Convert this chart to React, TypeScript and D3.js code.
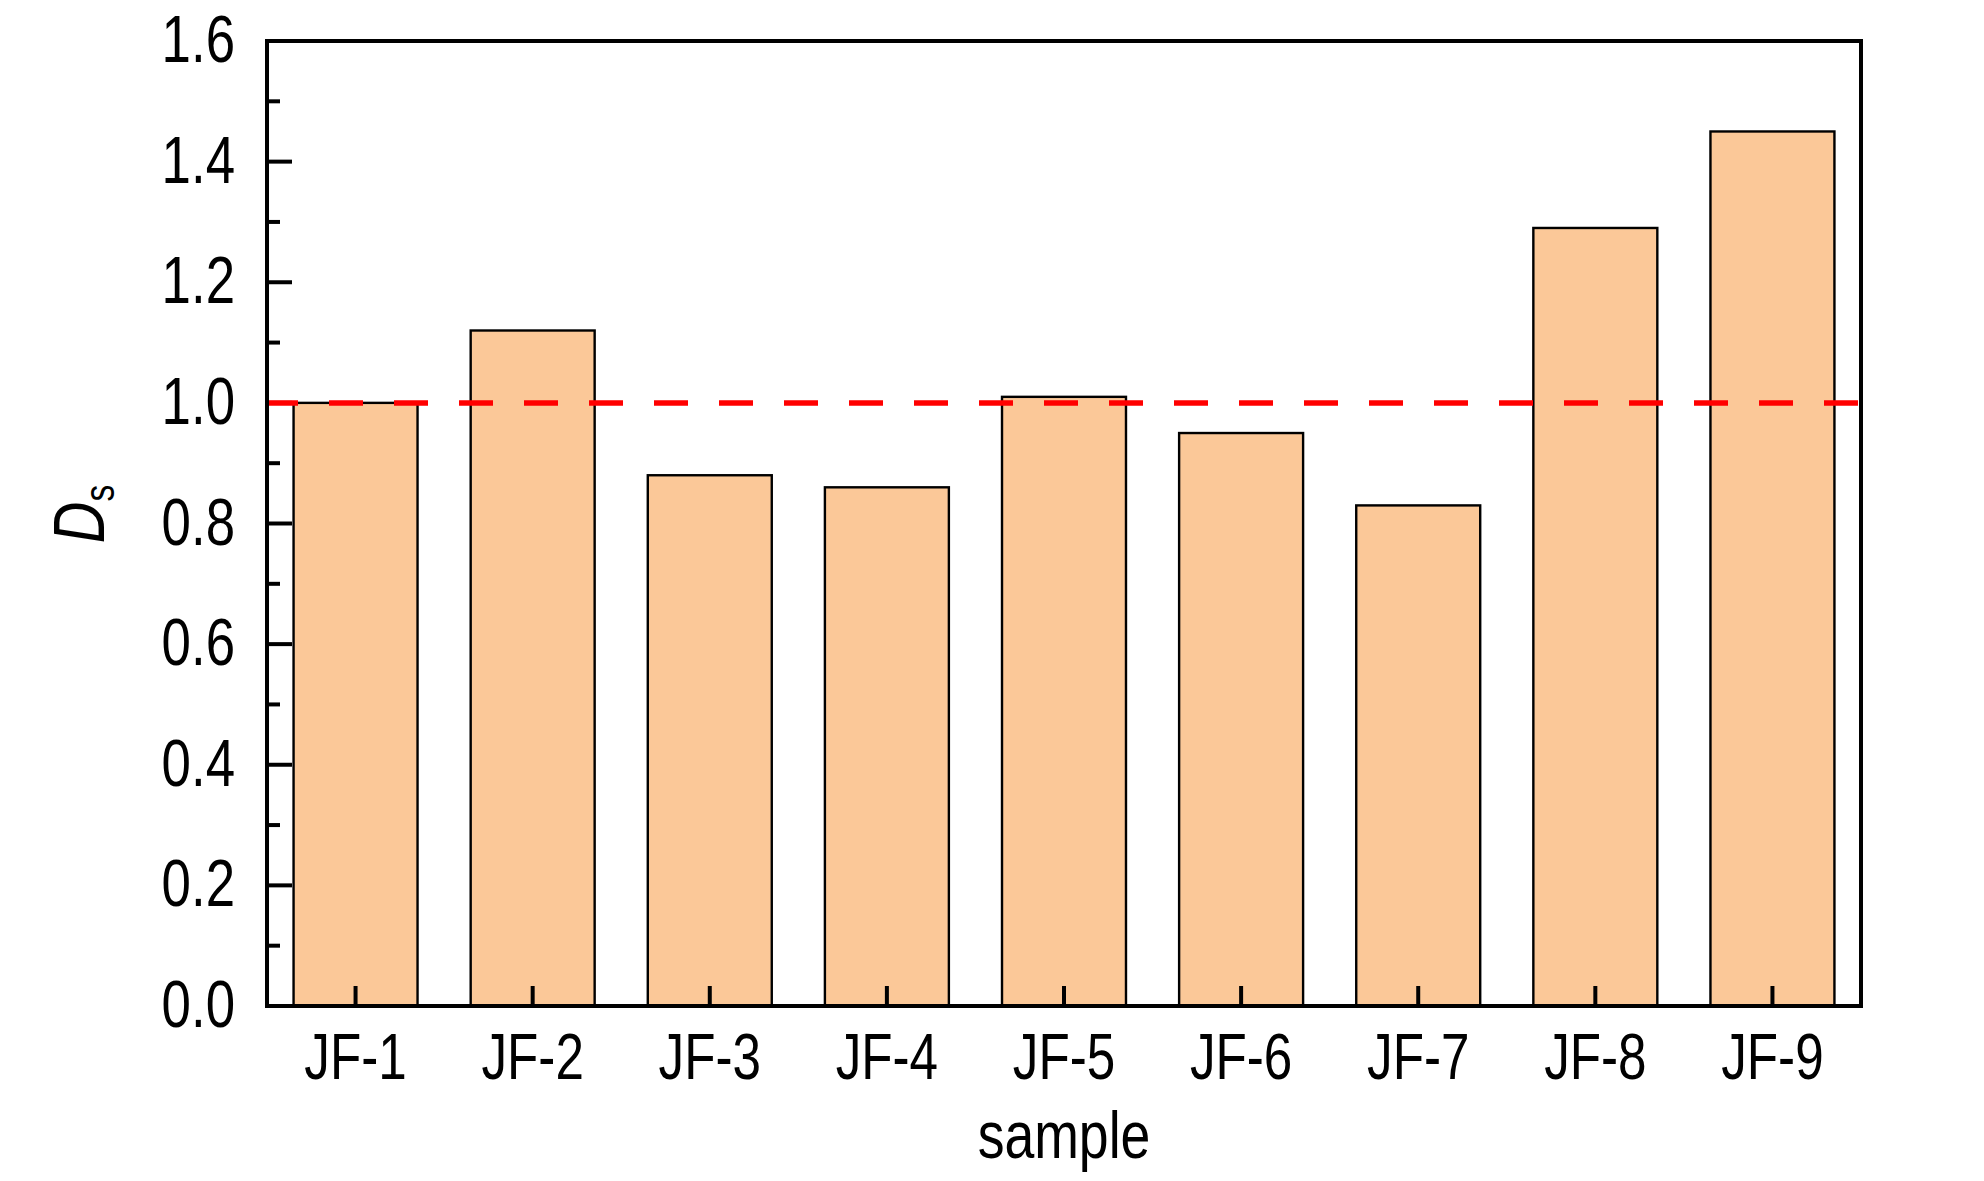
import { useEffect, useRef } from "react"
import * as d3 from "d3"

const samples = ["JF-1", "JF-2", "JF-3", "JF-4", "JF-5", "JF-6", "JF-7", "JF-8", "JF-9"]
const dsValues = [1.0, 1.12, 0.88, 0.86, 1.01, 0.95, 0.83, 1.29, 1.45]
const yMajorTicks = [0, 0.2, 0.4, 0.6, 0.8, 1.0, 1.2, 1.4, 1.6]
const yMinorTicks = [0.1, 0.3, 0.5, 0.7, 0.9, 1.1, 1.3, 1.5]
const referenceLevel = 1.0

// no narrow font installed, so Liberation Sans is squeezed horizontally
const FONT = "'Liberation Sans', Arial, sans-serif"
const SQUEEZE = 0.8

export default function App() {
  const svgRef = useRef<SVGSVGElement>(null)

  useEffect(() => {
    if (!svgRef.current) return
    document.body.style.margin = "0"

    const svg = d3.select(svgRef.current)
    svg.selectAll("*").remove()

    const left = 267
    const right = 1861
    const top = 41
    const bottom = 1006

    const x = d3.scaleBand().domain(samples).range([left, right]).paddingInner(0.3).paddingOuter(0.15)
    const y = d3.scaleLinear().domain([0, 1.6]).range([bottom, top])
    const cx = (d: string) => x(d)! + x.bandwidth() / 2

    // Bars
    svg
      .append("g")
      .selectAll("rect")
      .data(samples)
      .enter()
      .append("rect")
      .attr("x", (d) => x(d)!)
      .attr("y", (d, i) => y(dsValues[i]))
      .attr("width", x.bandwidth())
      .attr("height", (d, i) => y(0) - y(dsValues[i]))
      .attr("fill", "#fbc898")
      .attr("stroke", "#000")
      .attr("stroke-width", 2.4)

    // Y ticks (inward)
    const yAxis = svg.append("g")
    yAxis
      .selectAll("line.major")
      .data(yMajorTicks)
      .enter()
      .append("line")
      .attr("x1", left)
      .attr("x2", left + 25)
      .attr("y1", (d) => y(d))
      .attr("y2", (d) => y(d))
      .attr("stroke", "#000")
      .attr("stroke-width", 4)
    yAxis
      .selectAll("line.minor")
      .data(yMinorTicks)
      .enter()
      .append("line")
      .attr("x1", left)
      .attr("x2", left + 13)
      .attr("y1", (d) => y(d))
      .attr("y2", (d) => y(d))
      .attr("stroke", "#000")
      .attr("stroke-width", 4)
    yAxis
      .selectAll("text")
      .data(yMajorTicks)
      .enter()
      .append("text")
      .attr("transform", (d) => `translate(235,${y(d) + 21}) scale(${SQUEEZE},1)`)
      .attr("text-anchor", "end")
      .attr("font-family", FONT)
      .attr("font-size", 66)
      .attr("fill", "#000")
      .text((d) => d3.format(".1f")(d))

    // X ticks (inward)
    const xAxis = svg.append("g")
    xAxis
      .selectAll("line")
      .data(samples)
      .enter()
      .append("line")
      .attr("x1", cx)
      .attr("x2", cx)
      .attr("y1", bottom)
      .attr("y2", bottom - 20)
      .attr("stroke", "#000")
      .attr("stroke-width", 4)
    xAxis
      .selectAll("text")
      .data(samples)
      .enter()
      .append("text")
      .attr("transform", (d) => `translate(${cx(d)},1079) scale(${SQUEEZE},1)`)
      .attr("text-anchor", "middle")
      .attr("font-family", FONT)
      .attr("font-size", 64)
      .attr("fill", "#000")
      .text((d) => d)

    // Reference line (drawn over the tick at 1.0)
    svg
      .append("line")
      .attr("x1", left)
      .attr("x2", right)
      .attr("y1", y(referenceLevel))
      .attr("y2", y(referenceLevel))
      .attr("stroke", "#ff0000")
      .attr("stroke-width", 5.5)
      .attr("stroke-dasharray", "34 31")
      .attr("stroke-dashoffset", 3)

    // Frame
    svg
      .append("rect")
      .attr("x", left)
      .attr("y", top)
      .attr("width", right - left)
      .attr("height", bottom - top)
      .attr("fill", "none")
      .attr("stroke", "#000")
      .attr("stroke-width", 4)

    // Axis titles
    svg
      .append("text")
      .attr("transform", `translate(${(left + right) / 2},1158) scale(${SQUEEZE},1)`)
      .attr("text-anchor", "middle")
      .attr("font-family", FONT)
      .attr("font-size", 67)
      .attr("fill", "#000")
      .text("sample")

    const yTitle = svg
      .append("text")
      .attr("transform", `translate(104,514) rotate(-90) scale(${SQUEEZE},1)`)
      .attr("text-anchor", "middle")
      .attr("font-family", FONT)
      .attr("fill", "#000")
    yTitle.append("tspan").attr("font-size", 72).attr("font-style", "italic").text("D")
    yTitle.append("tspan").attr("font-size", 42).attr("dy", 10).text("s")
  }, [])

  return (
    <svg
      ref={svgRef}
      width={1984}
      height={1181}
      style={{ display: "block", position: "absolute", left: 0, top: 0, background: "#fff" }}
    />
  )
}
